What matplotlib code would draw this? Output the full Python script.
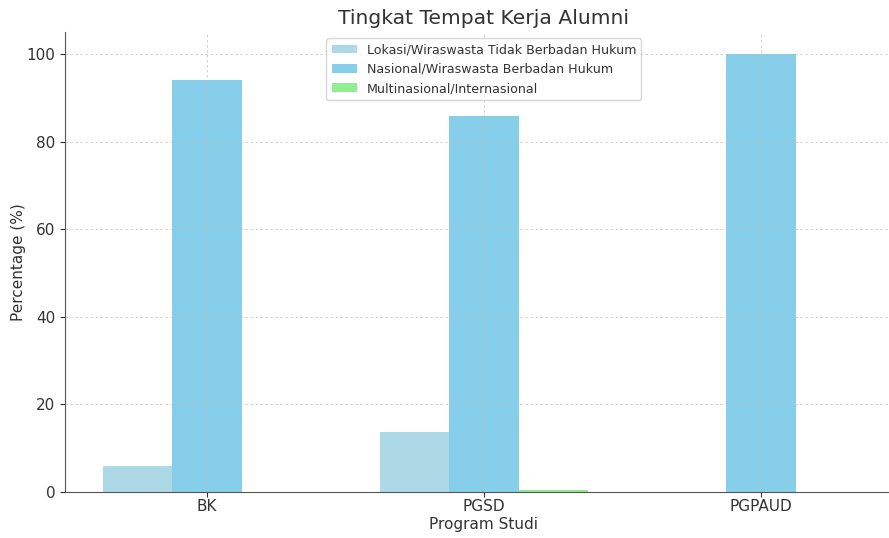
import numpy as np
import matplotlib.pyplot as plt

# data
programs = ['BK', 'PGSD', 'PGPAUD']
lokal = [5.9, 13.8, 0.0]
nasional = [94.1, 85.8, 100.0]
multinasional = [0.0, 0.4, 0.0]

labels = ['Lokasi/Wiraswasta Tidak Berbadan Hukum',
          'Nasional/Wiraswasta Berbadan Hukum',
          'Multinasional/Internasional']
colors = ['lightblue', 'skyblue', 'lightgreen']

plt.rcParams['text.color'] = '#333333'
plt.rcParams['axes.labelcolor'] = '#333333'
plt.rcParams['xtick.color'] = '#333333'
plt.rcParams['ytick.color'] = '#333333'

fig = plt.figure(figsize=(8.89, 5.38), dpi=100)
ax = fig.add_axes([0.0731, 0.0855, 0.9426, 0.855])

x = np.arange(len(programs))
width = 0.25

ax.bar(x - width, lokal, width, label=labels[0], color=colors[0])
ax.bar(x, nasional, width, label=labels[1], color=colors[1])
ax.bar(x + width, multinasional, width, label=labels[2], color=colors[2])

ax.set_xticks(x)
ax.set_xticklabels(programs, fontsize=11)
ax.tick_params(axis='y', labelsize=11)
ax.tick_params(axis='x', pad=1.5)
ax.set_ylim(0, 105)
ax.set_xlim(-0.5125, 2.5125)

ax.set_xlabel('Program Studi', fontsize=11, labelpad=2)
ax.set_ylabel('Percentage (%)', fontsize=11, labelpad=0)
ax.set_title('Tingkat Tempat Kerja Alumni', fontsize=14.6)

ax.grid(True, linestyle=(0, (3, 3)), color='#bbbbbb', alpha=0.8, linewidth=0.6)
ax.spines['top'].set_visible(False)
ax.spines['right'].set_visible(False)
ax.spines['left'].set_color('#555555')
ax.spines['bottom'].set_color('#555555')

ax.legend(loc='upper center', fontsize=9.1, framealpha=0.8, edgecolor='#cccccc')

plt.savefig('out.png', dpi=100)
